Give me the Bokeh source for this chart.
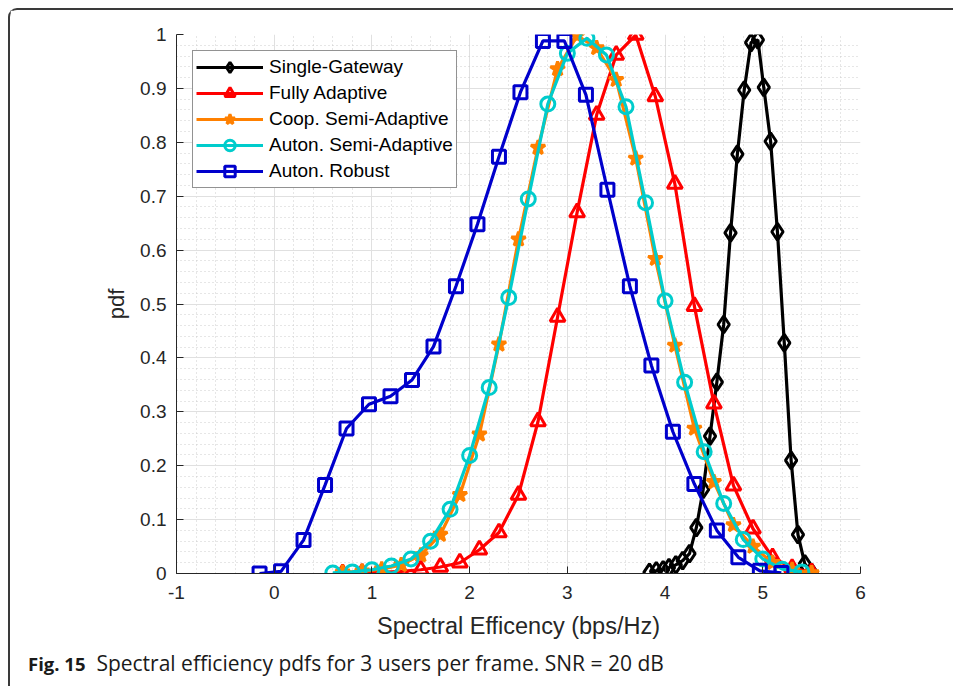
from bokeh.plotting import figure
from bokeh.models import FixedTicker, Legend, LegendItem, Div
from bokeh.layouts import column
from bokeh.embed import file_html
from bokeh.resources import INLINE

# ---- data ----
x_single = [3.84, 3.91, 3.98, 4.04, 4.11, 4.18, 4.25, 4.32, 4.39, 4.46, 4.53, 4.60, 4.67,
            4.74, 4.81, 4.88, 4.95, 5.01, 5.08, 5.15, 5.22, 5.29, 5.36, 5.43, 5.50]
y_single = [0.002, 0.005, 0.007, 0.011, 0.016, 0.024, 0.037, 0.085, 0.156, 0.255, 0.355, 0.462, 0.632,
            0.778, 0.897, 0.985, 0.990, 0.902, 0.802, 0.634, 0.428, 0.210, 0.072, 0.018, 0.002]

x_fully = [0.7, 0.9, 1.1, 1.3, 1.5, 1.7, 1.9, 2.1, 2.3, 2.5, 2.7, 2.9, 3.1,
           3.3, 3.5, 3.7, 3.9, 4.1, 4.3, 4.5, 4.7, 4.9, 5.1, 5.3, 5.5]
y_fully = [0.000, 0.001, 0.002, 0.004, 0.007, 0.012, 0.020, 0.044, 0.076, 0.146, 0.282, 0.476, 0.670,
           0.851, 0.962, 0.999, 0.885, 0.723, 0.496, 0.315, 0.163, 0.083, 0.030, 0.010, 0.002]

x_coop = [0.7, 0.9, 1.1, 1.3, 1.5, 1.7, 1.9, 2.1, 2.3, 2.5, 2.7, 2.9, 3.1,
          3.3, 3.5, 3.7, 3.9, 4.1, 4.3, 4.5, 4.7, 4.9, 5.1, 5.3, 5.5]
y_coop = [0.002, 0.004, 0.008, 0.016, 0.034, 0.072, 0.146, 0.258, 0.425, 0.620, 0.790, 0.936, 0.998,
          0.975, 0.916, 0.770, 0.584, 0.423, 0.269, 0.170, 0.090, 0.050, 0.020, 0.007, 0.001]

x_auton_semi = [0.6, 0.8, 1.0, 1.2, 1.4, 1.6, 1.8, 2.0, 2.2, 2.4, 2.6, 2.8, 3.0,
                3.2, 3.4, 3.6, 3.8, 4.0, 4.2, 4.4, 4.6, 4.8, 5.0, 5.2, 5.4]
y_auton_semi = [0.001, 0.003, 0.007, 0.014, 0.027, 0.060, 0.119, 0.219, 0.345, 0.512, 0.695, 0.871, 0.965,
                0.993, 0.962, 0.866, 0.688, 0.506, 0.355, 0.226, 0.130, 0.063, 0.027, 0.008, 0.003]

x_robust = [-0.15, 0.07, 0.30, 0.52, 0.74, 0.97, 1.19, 1.41, 1.63, 1.86, 2.08, 2.30, 2.52,
            2.75, 2.97, 3.19, 3.41, 3.64, 3.86, 4.08, 4.30, 4.53, 4.75, 4.97, 5.19]
y_robust = [0.000, 0.004, 0.062, 0.164, 0.269, 0.314, 0.329, 0.359, 0.421, 0.533, 0.648, 0.773, 0.893,
            0.988, 0.988, 0.888, 0.712, 0.533, 0.386, 0.263, 0.166, 0.080, 0.030, 0.005, 0.001]

series_labels = ["Single-Gateway", "Fully Adaptive", "Coop. Semi-Adaptive",
                 "Auton. Semi-Adaptive", "Auton. Robust"]

x_ticks = [-1, 0, 1, 2, 3, 4, 5, 6]
y_ticks = [0, 0.1, 0.2, 0.3, 0.4, 0.5, 0.6, 0.7, 0.8, 0.9, 1]
y_tick_labels = ["0", "0.1", "0.2", "0.3", "0.4", "0.5", "0.6", "0.7", "0.8", "0.9", "1"]

x_label = "Spectral Efficency (bps/Hz)"
y_label = "pdf"
caption_bold = "Fig. 15"
caption_text = "Spectral efficiency pdfs for 3 users per frame. SNR = 20 dB"

# ---- figure ----
W, H = 943, 640
p = figure(width=W, height=H, x_range=(-1, 6), y_range=(0, 1),
           output_backend="svg", toolbar_location=None,
           min_border_left=166, min_border_right=93, min_border_top=24, min_border_bottom=H - 24 - 539)
p.outline_line_color = None
p.background_fill_color = "white"
p.border_fill_color = "white"

x_minor = [x_ticks[0] + 0.2 * i for i in range(int((x_ticks[-1] - x_ticks[0]) / 0.2) + 1)]
y_minor = [0.02 * i for i in range(51)]
p.xaxis.ticker = FixedTicker(ticks=x_ticks, minor_ticks=x_minor)
p.yaxis.ticker = FixedTicker(ticks=y_ticks, minor_ticks=y_minor)
p.yaxis.major_label_overrides = {t: l for t, l in zip(y_ticks, y_tick_labels)}
p.xaxis.major_label_overrides = {t: str(t) for t in x_ticks}

for ax in (p.xaxis, p.yaxis):
    ax.axis_line_color = "#262626"
    ax.axis_line_width = 1
    ax.major_tick_line_color = "#262626"
    ax.major_tick_in = 7
    ax.major_tick_out = 0
    ax.minor_tick_in = 0
    ax.minor_tick_out = 0
    ax.major_label_text_font = "Liberation Sans"
    ax.major_label_text_font_size = "19px"
    ax.major_label_text_color = "#262626"
    ax.axis_label_text_font = "Liberation Sans"
    ax.axis_label_text_font_style = "normal"
    ax.axis_label_text_color = "#262626"
p.xaxis.axis_label = x_label
p.yaxis.axis_label = y_label
p.xaxis.axis_label_text_font_size = "23.5px"
p.yaxis.axis_label_text_font_size = "22px"
p.xaxis.major_label_standoff = 12
p.xaxis.axis_label_standoff = 11
p.yaxis.major_label_standoff = 10
p.yaxis.axis_label_standoff = 8

for g in (p.xgrid, p.ygrid):
    g.grid_line_color = "#e0e0e0"
    g.grid_line_width = 1
    g.minor_grid_line_color = "#cccccc"
    g.minor_grid_line_dash = "1 3"
    g.minor_grid_line_width = 1

styles = [
    (x_single, y_single, "#000000", "diamond", 17, None),
    (x_fully, y_fully, "#ff0000", "triangle", 15, None),
    (x_coop, y_coop, "#ff8000", "star", 15, "#ff8000"),
    (x_auton_semi, y_auton_semi, "#00cccc", "circle", 14, None),
    (x_robust, y_robust, "#0000cc", "square", 13, None),
]

items = []
for (xs, ys, col, mk, sz, fill), lab in zip(styles, series_labels):
    r1 = p.line(xs, ys, line_color=col, line_width=3.2)
    r2 = p.scatter(xs, ys, marker=mk, size=sz, line_color=col, line_width=3,
                   fill_color=fill if fill else "white", fill_alpha=1.0 if fill else 0.0)
    items.append(LegendItem(label=lab, renderers=[r1, r2]))

legend = Legend(items=items, location="top_left", margin=16, padding=3, spacing=0,
                glyph_width=67, glyph_height=26, label_height=26, label_standoff=6,
                label_text_font="Liberation Sans", label_text_font_size="19px",
                label_text_color="#000000",
                border_line_color="#262626", border_line_width=1,
                background_fill_color="white", background_fill_alpha=1.0)
p.add_layout(legend, "center")

caption = Div(text=f"<b style='font-size:18.5px'>{caption_bold}</b>&nbsp;&nbsp;{caption_text}",
              width=W, height=36,
              styles={"font-family": "'Open Sans', sans-serif", "font-size": "21px",
                      "color": "#1a1a1a", "line-height": "16px",
                      "padding-left": "13px", "box-sizing": "border-box"})

layout = column(p, caption, spacing=0,
                styles={"margin-left": "8px", "margin-top": "8px",
                        "border-left": "2px solid #3a3a3a", "border-top": "2px solid #3a3a3a",
                        "border-top-left-radius": "9px", "background-color": "white"})

open("out.html", "w").write(file_html(layout, INLINE))
